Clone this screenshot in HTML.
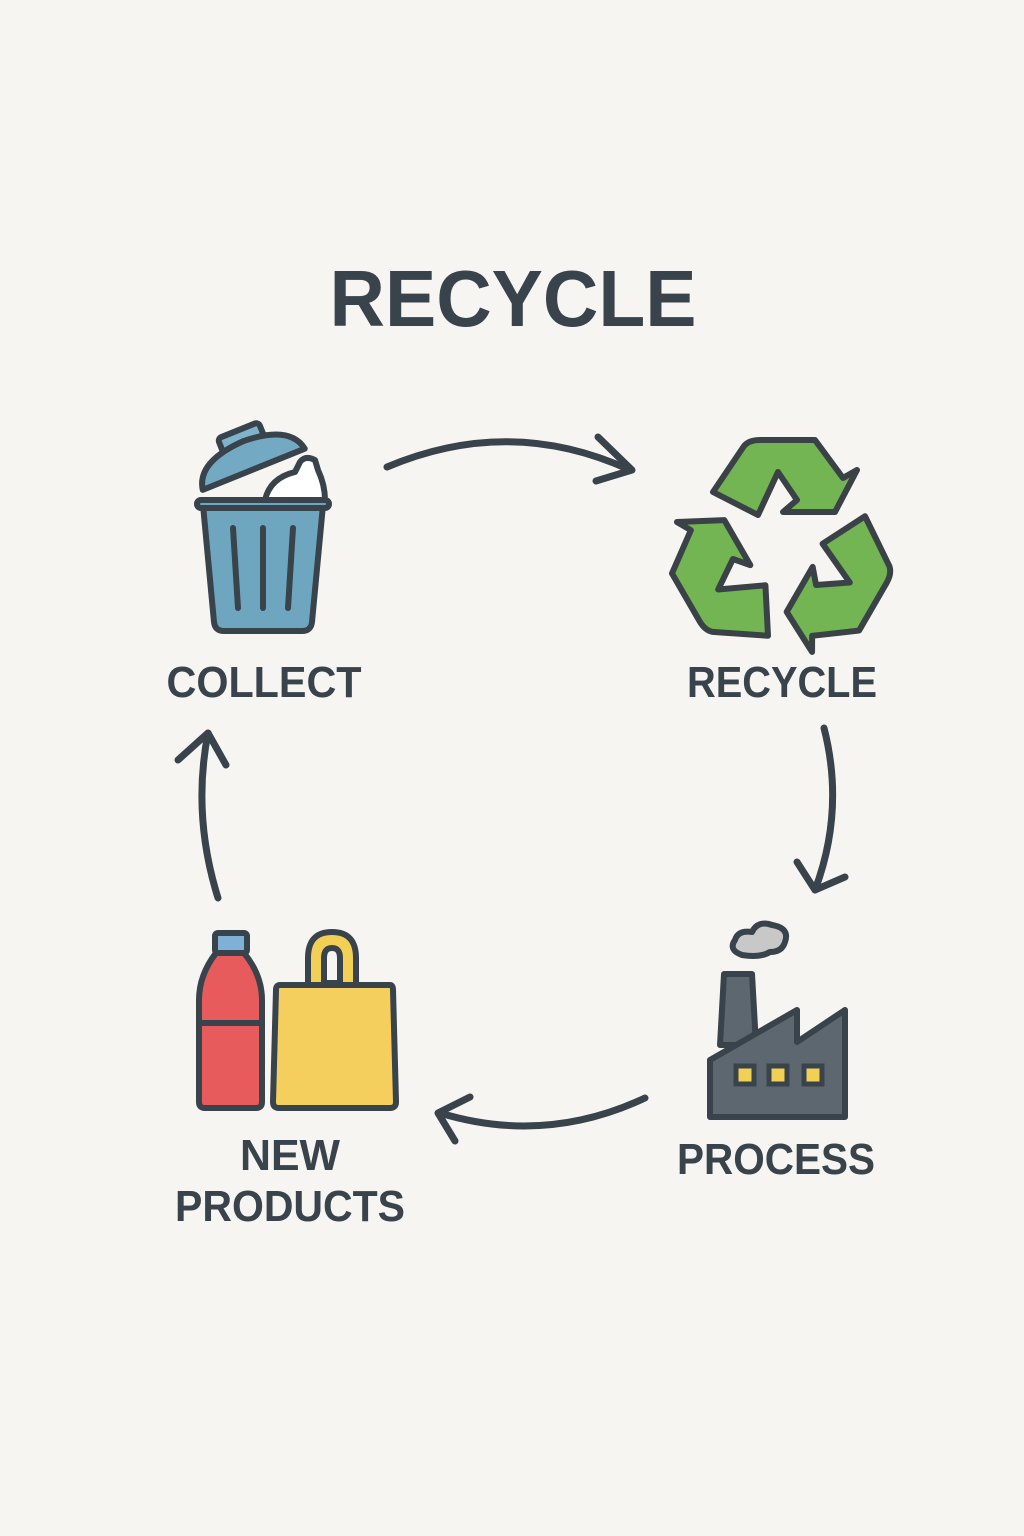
<!DOCTYPE html>
<html><head><meta charset="utf-8"><style>
html,body{margin:0;padding:0;background:#f7f5f2;}
svg{display:block;}
text{font-family:"Liberation Sans",sans-serif;font-weight:bold;fill:#39434b;}
</style></head><body>
<svg width="1024" height="1536" viewBox="0 0 1024 1536" xmlns="http://www.w3.org/2000/svg">
<rect width="1024" height="1536" fill="#f7f5f2"/>
<text x="513" y="326" font-size="80" text-anchor="middle" textLength="367" lengthAdjust="spacingAndGlyphs">RECYCLE</text>

<!-- arrows -->
<g fill="none" stroke="#39434b" stroke-width="7" stroke-linecap="round" stroke-linejoin="round">
<path d="M387,467 Q510,415 630,470"/>
<path d="M598,437 L632,470 L596,481"/>
<path d="M824,728 Q845,810 815,890"/>
<path d="M797,862 L815,890 L845,877"/>
<path d="M645,1098 Q545,1145 440,1113"/>
<path d="M470,1097 L438,1113 L455,1141"/>
<path d="M218,898 Q192,815 208,733"/>
<path d="M178,760 L208,733 L226,765"/>
</g>

<!-- trash can -->
<g stroke="#39434b" stroke-width="6" stroke-linejoin="round">
<path d="M265,500 Q270,478 295,472 L300,462 Q305,455 315,460 L318,470 Q325,485 325,500 Z" fill="#fff"/>
<g transform="rotate(-22 250 460)">
<rect x="228" y="428" width="44" height="16" rx="4" fill="#7fb3cc"/>
<path d="M195,470 Q200,442 250,440 Q300,442 305,470 Z" fill="#74a9c3"/>
</g>
<path d="M203,505 L323,505 L312,622 Q311,631 302,631 L224,631 Q215,631 214,622 Z" fill="#6ea6bf"/>
<rect x="197" y="500" width="132" height="8" rx="4" fill="#6ea6bf"/>
</g>
<g stroke="#39434b" stroke-width="6" stroke-linecap="round">
<line x1="233" y1="528" x2="238" y2="608"/>
<line x1="263" y1="528" x2="263" y2="608"/>
<line x1="293" y1="528" x2="288" y2="608"/>
</g>

<!-- recycle symbol -->
<g fill="#72b552" stroke="#3a4248" stroke-width="6" stroke-linejoin="round">
<path id="ra" d="M713,492 L744,446 Q749,440 760,440 L815,440 L843,478 L857,470 L835,512 L783,512 L797,500 L778,472 L758,515 Z"/>
<use href="#ra" transform="rotate(120 782 548)"/>
<use href="#ra" transform="rotate(240 782 548)"/>
</g>

<!-- factory -->
<g stroke="#39434b" stroke-width="6" stroke-linejoin="round">
<path d="M742,955 Q728,950 735,940 Q738,930 752,932 Q758,920 772,925 Q790,928 785,942 Q782,952 770,952 Q760,958 742,955 Z" fill="#c8c8c8"/>
<path d="M724,974 L752,974 L756,1045 L720,1045 Z" fill="#5c6770"/>
<path d="M710,1060 L797,1010 L797,1042 L845,1010 L845,1117 L710,1117 Z" fill="#5c6770"/>
</g>
<g fill="#f2cf55" stroke="#39434b" stroke-width="5">
<rect x="736" y="1066" width="18" height="18"/>
<rect x="769" y="1066" width="18" height="18"/>
<rect x="804" y="1066" width="18" height="18"/>
</g>

<!-- bottle & bag -->
<g stroke="#39434b" stroke-width="6" stroke-linejoin="round">
<path d="M216,953 L244,953 Q262,975 262,1000 L262,1102 Q262,1108 256,1108 L205,1108 Q199,1108 199,1102 L199,1000 Q199,975 216,953 Z" fill="#e85b5c"/>
<line x1="199" y1="1023" x2="262" y2="1023"/>
<rect x="215" y="933" width="32" height="20" rx="3" fill="#7fb0d6"/>
<path d="M308,985 L308,958 Q308,932 332,932 Q356,932 356,958 L356,985 Z M324,983 L340,983 L340,958 Q340,948 332,948 Q324,948 324,958 Z" fill="#f2cf55" fill-rule="evenodd"/>
<path d="M280,985 L390,985 Q393,985 393,990 L396,1102 Q396,1108 390,1108 L279,1108 Q273,1108 273,1102 L276,990 Q276,985 280,985 Z" fill="#f5cf5e"/>
</g>

<text x="264" y="697" font-size="44" text-anchor="middle" textLength="195" lengthAdjust="spacingAndGlyphs">COLLECT</text>
<text x="782" y="697" font-size="44" text-anchor="middle" textLength="190" lengthAdjust="spacingAndGlyphs">RECYCLE</text>
<text x="776" y="1174" font-size="44" text-anchor="middle" textLength="198" lengthAdjust="spacingAndGlyphs">PROCESS</text>
<text x="290" y="1170" font-size="44" text-anchor="middle" textLength="100" lengthAdjust="spacingAndGlyphs">NEW</text>
<text x="290" y="1221" font-size="44" text-anchor="middle" textLength="230" lengthAdjust="spacingAndGlyphs">PRODUCTS</text>
</svg>
</body></html>
